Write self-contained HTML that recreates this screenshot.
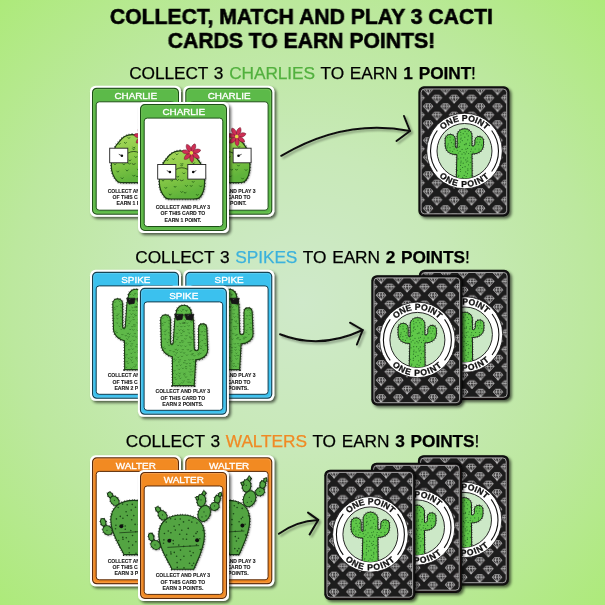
<!DOCTYPE html>
<html><head><meta charset="utf-8">
<style>
html,body{margin:0;padding:0;}
body{width:605px;height:605px;overflow:hidden;position:relative;
background:radial-gradient(circle 428px at 50% 50%, #cfe9ca 0%, #c8e9b8 35%, #bce89e 68%, #adea7a 100%);
font-family:"Liberation Sans",sans-serif;}
.t{will-change:transform;position:absolute;left:0;width:605px;text-align:center;white-space:nowrap;color:#000;}
.title{font-weight:bold;font-size:22.5px;line-height:24px;-webkit-text-stroke:0.6px #000;transform:scaleX(0.94);transform-origin:301.5px 0;}
.h{font-size:17.3px;line-height:20px;letter-spacing:-0.08px;word-spacing:1.1px;-webkit-text-stroke:0.25px;}
.h b{font-weight:bold;}
svg{position:absolute;left:0;top:0;}
</style></head>
<body>
<div class="t title" style="top:5px;left:-1px">COLLECT, MATCH AND PLAY 3 CACTI</div>
<div class="t title" style="top:29px;left:-1px">CARDS TO EARN POINTS!</div>
<div class="t h" style="top:63px;left:0px">COLLECT 3 <span style="color:#52b03e">CHARLIES</span> TO EARN <b>1 POINT</b>!</div>
<div class="t h" style="top:247px;left:0px">COLLECT 3 <span style="color:#3cb2dc">SPIKES</span> TO EARN <b>2 POINTS</b>!</div>
<div class="t h" style="top:431px;left:0px">COLLECT 3 <span style="color:#f08a24">WALTERS</span> TO EARN <b>3 POINTS</b>!</div>
<svg width="605" height="605" viewBox="0 0 605 605">

<defs>
  <filter id="sh" x="-20%" y="-20%" width="150%" height="150%">
    <feGaussianBlur in="SourceAlpha" stdDeviation="1.6"/>
    <feOffset dx="1.8" dy="1.9"/>
    <feComponentTransfer><feFuncA type="linear" slope="0.62"/></feComponentTransfer>
    <feMerge><feMergeNode/><feMergeNode in="SourceGraphic"/></feMerge>
  </filter>
  <filter id="ash" x="-10%" y="-30%" width="130%" height="180%">
    <feGaussianBlur in="SourceAlpha" stdDeviation="1.1"/>
    <feOffset dx="1.5" dy="1.8"/>
    <feComponentTransfer><feFuncA type="linear" slope="0.35"/></feComponentTransfer>
    <feMerge><feMergeNode/><feMergeNode in="SourceGraphic"/></feMerge>
  </filter>
  <filter id="cblur" x="-20%" y="-20%" width="140%" height="140%"><feGaussianBlur stdDeviation="0.9"/></filter>
  <linearGradient id="chg" x1="0" y1="0" x2="0.3" y2="1">
    <stop offset="0" stop-color="#a8d85c"/><stop offset="0.5" stop-color="#8ccb48"/><stop offset="1" stop-color="#5fb33a"/>
  </linearGradient>
  <pattern id="dia" patternUnits="userSpaceOnUse" width="17.35" height="17.0">
    <path d="M7.20,0.60 H12.40 L14.50,3.10 L9.80,8.30 L5.10,3.10 Z M5.10,3.10 H14.50 M8.80,0.60 L8.00,3.10 L9.80,8.30 L11.60,3.10 L10.80,0.60 M-1.48,9.10 H3.73 L5.83,11.60 L1.12,16.80 L-3.58,11.60 Z M-3.58,11.60 H5.83 M0.12,9.10 L-0.68,11.60 L1.12,16.80 L2.92,11.60 L2.12,9.10 M15.88,9.10 H21.08 L23.18,11.60 L18.48,16.80 L13.78,11.60 Z M13.78,11.60 H23.18 M17.48,9.10 L16.68,11.60 L18.48,16.80 L20.28,11.60 L19.48,9.10 M24.55,0.60 H29.75 L31.85,3.10 L27.15,8.30 L22.45,3.10 Z M22.45,3.10 H31.85 M26.15,0.60 L25.35,3.10 L27.15,8.30 L28.95,3.10 L28.15,0.60 M-10.15,0.60 H-4.95 L-2.85,3.10 L-7.55,8.30 L-12.25,3.10 Z M-12.25,3.10 H-2.85 M-8.55,0.60 L-9.35,3.10 L-7.55,8.30 L-5.75,3.10 L-6.55,0.60 M7.20,17.60 H12.40 L14.50,20.10 L9.80,25.30 L5.10,20.10 Z M5.10,20.10 H14.50 M8.80,17.60 L8.00,20.10 L9.80,25.30 L11.60,20.10 L10.80,17.60 M7.20,-16.40 H12.40 L14.50,-13.90 L9.80,-8.70 L5.10,-13.90 Z M5.10,-13.90 H14.50 M8.80,-16.40 L8.00,-13.90 L9.80,-8.70 L11.60,-13.90 L10.80,-16.40 " fill="none" stroke="#dadada" stroke-width="0.75" stroke-linejoin="round"/>
  </pattern>
  <clipPath id="discclip"><circle cx="46.1" cy="64.7" r="27.5"/></clipPath>
  <clipPath id="cacclip"><path d="M37.9,93 L38.5,68.3 C33,68.3 26.8,66.5 26.8,58 L26.8,53 C26.8,46.5 36.9,46.5 36.9,53 L36.9,59.5 C36.9,61.5 37.5,61.6 38.8,61.6 L38.8,49.8 C38.8,40 53.6,40 53.6,49.8 L53.6,59.7 C55,59.7 56.5,59.5 56.5,57.5 L56.5,54.4 C56.5,48.7 65.1,48.7 65.1,54.4 L65.1,58 C65.1,65.5 59,67.7 53.6,67.7 L53.8,93 Z"/></clipPath>
  <path id="arcTop" d="M16.1,64.7 A30,30 0 0 1 76.1,64.7" fill="none"/>
  <path id="arcBot" d="M10.2,64.7 A35.9,35.9 0 0 0 82,64.7" fill="none"/>
  
  <clipPath id="cbclip"><path d="M42,48.9 C50,48.9 55.5,52 59.1,56.6 C62,60 63.6,62.5 64.6,66 C66,70 66.6,75 66.6,80 C66.6,86 65,92 61.7,95.5 C60.5,96.8 58,97 55,97 L33,97 C30,97 28.3,96.8 27.2,95.5 C23,91 21.3,86 21.3,80 C21.3,74 22.3,68 24.5,63 C25.5,60 26.8,58.5 28.6,56.6 C31.5,52.5 36,48.9 42,48.9 Z"/></clipPath>
  <g id="charlie">
    <rect x="0" y="0" width="91" height="131" rx="5.5" fill="#fff"/>
    <rect x="2.6" y="2.6" width="85.8" height="125.8" rx="4.2" fill="#5cba48" stroke="#1f4f18" stroke-width="1.2"/>
    <rect x="3.6" y="3.6" width="83.8" height="123.8" rx="3.4" fill="none" stroke="#86d06a" stroke-width="0.8" opacity="0.7"/>
    <rect x="6.2" y="16.1" width="78.6" height="108.4" rx="3" fill="#fff" stroke="#1f4f18" stroke-width="1"/>
    <text x="45.8" y="13.3" font-family="Liberation Sans" font-size="9.9" fill="#fff" stroke="#fff" stroke-width="0.35" text-anchor="middle">CHARLIE</text>
    <path d="M42,48.9 C50,48.9 55.5,52 59.1,56.6 C62,60 63.6,62.5 64.6,66 C66,70 66.6,75 66.6,80 C66.6,86 65,92 61.7,95.5 C60.5,96.8 58,97 55,97 L33,97 C30,97 28.3,96.8 27.2,95.5 C23,91 21.3,86 21.3,80 C21.3,74 22.3,68 24.5,63 C25.5,60 26.8,58.5 28.6,56.6 C31.5,52.5 36,48.9 42,48.9 Z" fill="#000" opacity="0.45" transform="translate(0.9,0.9)" filter="url(#cblur)"/>
    <path d="M42,48.9 C50,48.9 55.5,52 59.1,56.6 C62,60 63.6,62.5 64.6,66 C66,70 66.6,75 66.6,80 C66.6,86 65,92 61.7,95.5 C60.5,96.8 58,97 55,97 L33,97 C30,97 28.3,96.8 27.2,95.5 C23,91 21.3,86 21.3,80 C21.3,74 22.3,68 24.5,63 C25.5,60 26.8,58.5 28.6,56.6 C31.5,52.5 36,48.9 42,48.9 Z" fill="none" stroke="#1a1a1a" stroke-width="2.6" stroke-dasharray="0.5 2.2"/>
    <path d="M42,48.9 C50,48.9 55.5,52 59.1,56.6 C62,60 63.6,62.5 64.6,66 C66,70 66.6,75 66.6,80 C66.6,86 65,92 61.7,95.5 C60.5,96.8 58,97 55,97 L33,97 C30,97 28.3,96.8 27.2,95.5 C23,91 21.3,86 21.3,80 C21.3,74 22.3,68 24.5,63 C25.5,60 26.8,58.5 28.6,56.6 C31.5,52.5 36,48.9 42,48.9 Z" fill="url(#chg)" stroke="#1b3a12" stroke-width="1.2"/>
    <g clip-path="url(#cbclip)"><path d="M22.5,50.1 L23.5,51.2 L24.5,50.1 M31.6,50.4 L32.6,51.5 L33.6,50.4 M37.9,51.8 L38.9,52.9 L39.9,51.8 M51.0,54.1 L52.0,55.2 L53.0,54.1 M58.3,50.8 L59.3,51.9 L60.3,50.8 M28.3,57.7 L29.3,58.8 L30.3,57.7 M34.4,56.7 L35.4,57.8 L36.4,56.7 M42.9,61.4 L43.9,62.5 L44.9,61.4 M54.6,60.7 L55.6,61.8 L56.6,60.7 M62.6,57.2 L63.6,58.3 L64.6,57.2 M22.9,66.2 L23.9,67.3 L24.9,66.2 M33.5,67.6 L34.5,68.7 L35.5,67.6 M42.6,63.1 L43.6,64.2 L44.6,63.1 M49.2,66.5 L50.2,67.6 L51.2,66.5 M56.8,63.7 L57.8,64.8 L58.8,63.7 M27.9,69.7 L28.9,70.8 L29.9,69.7 M38.8,74.2 L39.8,75.3 L40.8,74.2 M44.8,70.9 L45.8,72.0 L46.8,70.9 M55.0,72.5 L56.0,73.6 L57.0,72.5 M63.1,74.1 L64.1,75.2 L65.1,74.1 M24.0,78.1 L25.0,79.2 L26.0,78.1 M32.8,78.2 L33.8,79.3 L34.8,78.2 M38.5,77.5 L39.5,78.6 L40.5,77.5 M50.4,76.0 L51.4,77.1 L52.4,76.0 M54.2,79.4 L55.2,80.5 L56.2,79.4 M26.8,85.4 L27.8,86.5 L28.8,85.4 M36.1,84.3 L37.1,85.4 L38.1,84.3 M47.4,83.5 L48.4,84.6 L49.4,83.5 M52.2,83.5 L53.2,84.6 L54.2,83.5 M61.7,83.9 L62.7,85.0 L63.7,83.9 M23.2,93.2 L24.2,94.3 L25.2,93.2 M31.2,92.1 L32.2,93.2 L33.2,92.1 M42.7,89.5 L43.7,90.6 L44.7,89.5 M46.1,90.2 L47.1,91.3 L48.1,90.2 M58.3,92.4 L59.3,93.5 L60.3,92.4" fill="none" stroke="#2b6a1c" stroke-width="0.9" stroke-linecap="round"/></g>
    <g transform="translate(53.4,50.8) scale(1.12) rotate(22)">
      <g fill="#cf2e54" stroke="#6e1429" stroke-width="0.45"><path d="M0,-0.5 C-2.6,-3.5 -2.2,-7 0,-8.6 C2.2,-7 2.6,-3.5 0,-0.5 Z" transform="rotate(0)"/><path d="M0,-0.5 C-2.6,-3.5 -2.2,-7 0,-8.6 C2.2,-7 2.6,-3.5 0,-0.5 Z" transform="rotate(51.4)"/><path d="M0,-0.5 C-2.6,-3.5 -2.2,-7 0,-8.6 C2.2,-7 2.6,-3.5 0,-0.5 Z" transform="rotate(102.8)"/><path d="M0,-0.5 C-2.6,-3.5 -2.2,-7 0,-8.6 C2.2,-7 2.6,-3.5 0,-0.5 Z" transform="rotate(154.2)"/><path d="M0,-0.5 C-2.6,-3.5 -2.2,-7 0,-8.6 C2.2,-7 2.6,-3.5 0,-0.5 Z" transform="rotate(205.6)"/><path d="M0,-0.5 C-2.6,-3.5 -2.2,-7 0,-8.6 C2.2,-7 2.6,-3.5 0,-0.5 Z" transform="rotate(257)"/><path d="M0,-0.5 C-2.6,-3.5 -2.2,-7 0,-8.6 C2.2,-7 2.6,-3.5 0,-0.5 Z" transform="rotate(308.4)"/></g>
      <circle r="1.6" fill="#e6d64a"/>
    </g>
    <path d="M37.8,67.5 Q43.8,64 49.8,67.5" fill="none" stroke="#1b3a12" stroke-width="0.8"/>
    <rect x="19.7" y="62.5" width="18.1" height="14.6" fill="#fff" stroke="#222" stroke-width="0.9"/>
    <rect x="49.8" y="62.5" width="18" height="14.6" fill="#fff" stroke="#222" stroke-width="0.9"/>
    <circle cx="31.9" cy="70" r="1.3" fill="#111"/><path d="M31.9,70 L28.8,68.6" stroke="#111" stroke-width="0.7"/>
    <circle cx="55.2" cy="70" r="1.3" fill="#111"/><path d="M55.2,70 L58.3,68.6" stroke="#111" stroke-width="0.7"/>
    <path d="M41.8,77.9 Q43.7,79.6 45.6,77.9" fill="none" stroke="#1b3a12" stroke-width="0.7"/>
    
    <g font-family="Liberation Sans" font-weight="bold" font-size="5.3" fill="#1a1a1a" stroke="#1a1a1a" stroke-width="0.12" text-anchor="middle">
      <text x="44.9" y="106.90" textLength="54.5" lengthAdjust="spacingAndGlyphs">COLLECT AND PLAY 3</text>
      <text x="44.9" y="113.20" textLength="44.6" lengthAdjust="spacingAndGlyphs">OF THIS CARD TO</text>
      <text x="44.9" y="119.50" textLength="36.6" lengthAdjust="spacingAndGlyphs">EARN 1 POINT.</text>
    </g>
  </g>
  
  <clipPath id="sbclip"><path d="M34.7,99.8 L34.5,71 C30,70 23.5,66 23.5,59 L22.8,34 C22.8,27.5 32.5,27.5 32.5,34 L32.5,56 C32.5,59.5 35.4,59.5 35.4,56 L36.9,34 L38.3,27 A7.5,7.5 0 0 1 53.3,27 L55.5,34 L56.3,62 C56.3,66 60.7,66 60.7,62 L60.7,43 C60.7,36.5 68.9,36.5 68.9,43 L69.7,64 C69.7,70 64,74 57.8,74 L56.3,99.8 Z"/></clipPath>
  <g id="spike">
    <rect x="0" y="0" width="91" height="131" rx="5.5" fill="#fff"/>
    <rect x="2.6" y="2.6" width="85.8" height="125.8" rx="4.2" fill="#3bc1ee" stroke="#123c4e" stroke-width="1.2"/>
    <rect x="3.6" y="3.6" width="83.8" height="123.8" rx="3.4" fill="none" stroke="#7ad6f5" stroke-width="0.8" opacity="0.7"/>
    <rect x="6.2" y="16.1" width="78.6" height="108.4" rx="3" fill="#fff" stroke="#123c4e" stroke-width="1"/>
    <text x="45.8" y="13.3" font-family="Liberation Sans" font-size="9.9" fill="#fff" stroke="#fff" stroke-width="0.35" text-anchor="middle">SPIKE</text>
    <path d="M34.7,99.8 L34.5,71 C30,70 23.5,66 23.5,59 L22.8,34 C22.8,27.5 32.5,27.5 32.5,34 L32.5,56 C32.5,59.5 35.4,59.5 35.4,56 L36.9,34 L38.3,27 A7.5,7.5 0 0 1 53.3,27 L55.5,34 L56.3,62 C56.3,66 60.7,66 60.7,62 L60.7,43 C60.7,36.5 68.9,36.5 68.9,43 L69.7,64 C69.7,70 64,74 57.8,74 L56.3,99.8 Z" fill="#000" opacity="0.45" transform="translate(0.9,0.9)" filter="url(#cblur)"/>
    <path d="M34.7,99.8 L34.5,71 C30,70 23.5,66 23.5,59 L22.8,34 C22.8,27.5 32.5,27.5 32.5,34 L32.5,56 C32.5,59.5 35.4,59.5 35.4,56 L36.9,34 L38.3,27 A7.5,7.5 0 0 1 53.3,27 L55.5,34 L56.3,62 C56.3,66 60.7,66 60.7,62 L60.7,43 C60.7,36.5 68.9,36.5 68.9,43 L69.7,64 C69.7,70 64,74 57.8,74 L56.3,99.8 Z" fill="none" stroke="#1a1a1a" stroke-width="2.6" stroke-dasharray="0.5 2.2"/>
    <path d="M34.7,99.8 L34.5,71 C30,70 23.5,66 23.5,59 L22.8,34 C22.8,27.5 32.5,27.5 32.5,34 L32.5,56 C32.5,59.5 35.4,59.5 35.4,56 L36.9,34 L38.3,27 A7.5,7.5 0 0 1 53.3,27 L55.5,34 L56.3,62 C56.3,66 60.7,66 60.7,62 L60.7,43 C60.7,36.5 68.9,36.5 68.9,43 L69.7,64 C69.7,70 64,74 57.8,74 L56.3,99.8 Z" fill="#5fb94a" stroke="#1b3a12" stroke-width="1.1"/>
    <g clip-path="url(#sbclip)"><path d="M21.6,20.3 L22.4,21.1 L23.1,20.3 M26.3,20.9 L27.1,21.7 L27.8,20.9 M30.4,20.8 L31.1,21.6 L31.9,20.8 M32.5,19.4 L33.2,20.3 L34.0,19.4 M39.4,20.0 L40.1,20.8 L40.9,20.0 M43.4,18.4 L44.2,19.2 L44.9,18.4 M46.4,18.8 L47.1,19.6 L47.9,18.8 M50.8,19.8 L51.5,20.6 L52.3,19.8 M53.4,18.7 L54.2,19.5 L54.9,18.7 M58.4,20.8 L59.2,21.6 L59.9,20.8 M64.0,18.5 L64.8,19.4 L65.5,18.5 M68.3,18.5 L69.1,19.3 L69.8,18.5 M23.7,21.8 L24.4,22.6 L25.2,21.8 M26.1,24.0 L26.8,24.8 L27.6,24.0 M30.9,22.1 L31.6,22.9 L32.4,22.1 M37.4,24.0 L38.1,24.8 L38.9,24.0 M39.5,24.3 L40.3,25.1 L41.0,24.3 M44.5,23.4 L45.2,24.3 L46.0,23.4 M47.7,24.2 L48.4,25.0 L49.2,24.2 M53.3,24.3 L54.1,25.1 L54.8,24.3 M58.1,22.3 L58.9,23.1 L59.6,22.3 M60.7,21.9 L61.5,22.8 L62.2,21.9 M64.3,21.6 L65.1,22.5 L65.8,21.6 M20.7,26.6 L21.4,27.4 L22.2,26.6 M24.0,26.8 L24.7,27.6 L25.5,26.8 M29.2,25.7 L29.9,26.5 L30.7,25.7 M34.8,26.2 L35.5,27.0 L36.3,26.2 M37.5,26.2 L38.3,27.0 L39.0,26.2 M42.9,25.0 L43.6,25.8 L44.4,25.0 M47.8,24.9 L48.6,25.7 L49.3,24.9 M51.4,27.3 L52.1,28.1 L52.9,27.3 M53.4,27.1 L54.2,27.9 L54.9,27.1 M58.7,26.5 L59.4,27.3 L60.2,26.5 M61.8,24.9 L62.6,25.8 L63.3,24.9 M66.5,27.6 L67.3,28.4 L68.0,27.6 M22.5,30.4 L23.2,31.2 L24.0,30.4 M28.8,30.9 L29.6,31.8 L30.3,30.9 M31.3,29.2 L32.0,30.0 L32.8,29.2 M36.0,30.4 L36.8,31.3 L37.5,30.4 M39.0,30.4 L39.7,31.2 L40.5,30.4 M45.2,30.7 L46.0,31.5 L46.7,30.7 M47.2,30.9 L47.9,31.8 L48.7,30.9 M51.5,29.2 L52.3,30.0 L53.0,29.2 M57.3,30.9 L58.0,31.7 L58.8,30.9 M60.7,30.9 L61.4,31.7 L62.2,30.9 M65.5,29.1 L66.2,29.9 L67.0,29.1 M20.7,32.0 L21.5,32.9 L22.2,32.0 M24.2,32.0 L25.0,32.8 L25.7,32.0 M30.2,34.5 L31.0,35.3 L31.7,34.5 M32.9,31.7 L33.6,32.5 L34.4,31.7 M39.5,33.1 L40.2,33.9 L41.0,33.1 M42.0,32.2 L42.7,33.0 L43.5,32.2 M46.7,33.9 L47.5,34.8 L48.2,33.9 M50.5,32.8 L51.3,33.6 L52.0,32.8 M53.5,34.2 L54.3,35.0 L55.0,34.2 M57.7,33.0 L58.4,33.8 L59.2,33.0 M64.2,31.9 L65.0,32.7 L65.7,31.9 M68.1,34.3 L68.9,35.1 L69.6,34.3 M23.7,37.2 L24.5,38.0 L25.2,37.2 M26.4,36.2 L27.1,37.0 L27.9,36.2 M30.7,37.4 L31.5,38.2 L32.2,37.4 M35.3,36.2 L36.1,37.0 L36.8,36.2 M41.6,37.4 L42.4,38.2 L43.1,37.4 M45.7,36.2 L46.5,37.0 L47.2,36.2 M48.5,37.0 L49.3,37.8 L50.0,37.0 M52.7,35.7 L53.4,36.6 L54.2,35.7 M56.7,35.3 L57.4,36.1 L58.2,35.3 M60.8,37.8 L61.5,38.6 L62.3,37.8 M66.7,36.7 L67.5,37.5 L68.2,36.7 M21.2,39.2 L22.0,40.1 L22.7,39.2 M24.2,39.0 L25.0,39.9 L25.7,39.0 M30.5,40.8 L31.2,41.6 L32.0,40.8 M33.4,40.6 L34.2,41.4 L34.9,40.6 M38.9,40.3 L39.6,41.1 L40.4,40.3 M42.7,40.5 L43.5,41.3 L44.2,40.5 M46.0,40.3 L46.8,41.1 L47.5,40.3 M50.0,39.7 L50.8,40.5 L51.5,39.7 M55.6,40.3 L56.4,41.1 L57.1,40.3 M58.4,41.0 L59.2,41.8 L59.9,41.0 M63.7,39.9 L64.4,40.8 L65.2,39.9 M66.0,39.8 L66.8,40.7 L67.5,39.8 M22.6,43.6 L23.4,44.4 L24.1,43.6 M27.4,44.0 L28.2,44.8 L28.9,44.0 M32.2,43.9 L32.9,44.8 L33.7,43.9 M35.5,43.5 L36.3,44.3 L37.0,43.5 M40.8,44.0 L41.6,44.9 L42.3,44.0 M43.9,44.1 L44.7,44.9 L45.4,44.1 M49.6,43.6 L50.4,44.4 L51.1,43.6 M54.1,44.4 L54.9,45.2 L55.6,44.4 M57.0,43.2 L57.8,44.0 L58.5,43.2 M60.2,44.1 L60.9,44.9 L61.7,44.1 M66.6,43.0 L67.4,43.8 L68.1,43.0 M21.8,47.1 L22.6,47.9 L23.3,47.1 M26.1,45.5 L26.9,46.3 L27.6,45.5 M30.5,46.7 L31.2,47.5 L32.0,46.7 M34.3,46.2 L35.1,47.0 L35.8,46.2 M38.4,47.2 L39.2,48.1 L39.9,47.2 M42.7,47.1 L43.4,47.9 L44.2,47.1 M45.1,45.4 L45.8,46.3 L46.6,45.4 M50.5,46.9 L51.2,47.7 L52.0,46.9 M54.0,47.0 L54.8,47.8 L55.5,47.0 M59.4,45.1 L60.2,45.9 L60.9,45.1 M63.2,45.6 L63.9,46.5 L64.7,45.6 M66.1,45.4 L66.9,46.2 L67.6,45.4 M22.8,48.9 L23.6,49.7 L24.3,48.9 M26.6,48.4 L27.4,49.2 L28.1,48.4 M31.6,49.4 L32.4,50.3 L33.1,49.4 M36.3,50.1 L37.0,50.9 L37.8,50.1 M39.4,51.0 L40.1,51.8 L40.9,51.0 M42.9,49.5 L43.6,50.3 L44.4,49.5 M47.9,49.5 L48.6,50.4 L49.4,49.5 M51.6,50.8 L52.4,51.6 L53.1,50.8 M56.6,48.4 L57.3,49.3 L58.1,48.4 M61.5,48.6 L62.2,49.4 L63.0,48.6 M65.5,49.3 L66.2,50.1 L67.0,49.3 M21.5,54.5 L22.2,55.3 L23.0,54.5 M26.4,52.9 L27.1,53.7 L27.9,52.9 M30.6,53.6 L31.3,54.4 L32.1,53.6 M33.5,52.1 L34.2,52.9 L35.0,52.1 M38.3,53.3 L39.1,54.2 L39.8,53.3 M43.6,54.5 L44.3,55.4 L45.1,54.5 M46.8,52.7 L47.5,53.5 L48.3,52.7 M51.8,51.7 L52.6,52.5 L53.3,51.7 M53.7,53.3 L54.4,54.2 L55.2,53.3 M59.4,52.1 L60.1,52.9 L60.9,52.1 M63.6,54.3 L64.4,55.1 L65.1,54.3 M67.1,52.9 L67.8,53.8 L68.6,52.9 M22.5,55.9 L23.3,56.7 L24.0,55.9 M28.9,56.2 L29.7,57.0 L30.4,56.2 M33.1,57.7 L33.9,58.6 L34.6,57.7 M36.2,55.8 L37.0,56.6 L37.7,55.8 M41.6,56.5 L42.3,57.3 L43.1,56.5 M44.1,56.0 L44.9,56.8 L45.6,56.0 M50.0,56.5 L50.7,57.3 L51.5,56.5 M52.1,56.4 L52.9,57.3 L53.6,56.4 M55.8,56.9 L56.6,57.7 L57.3,56.9 M61.0,55.9 L61.7,56.7 L62.5,55.9 M66.2,57.5 L66.9,58.3 L67.7,57.5 M19.8,60.0 L20.6,60.8 L21.3,60.0 M24.8,61.1 L25.5,62.0 L26.3,61.1 M30.5,59.1 L31.2,59.9 L32.0,59.1 M33.2,58.9 L33.9,59.7 L34.7,58.9 M39.5,59.3 L40.2,60.1 L41.0,59.3 M42.6,59.8 L43.3,60.6 L44.1,59.8 M46.9,60.2 L47.6,61.0 L48.4,60.2 M51.4,58.7 L52.1,59.6 L52.9,58.7 M55.6,59.3 L56.4,60.1 L57.1,59.3 M59.1,59.4 L59.9,60.2 L60.6,59.4 M62.7,60.0 L63.4,60.8 L64.2,60.0 M67.3,59.5 L68.1,60.3 L68.8,59.5 M24.1,63.5 L24.8,64.3 L25.6,63.5 M26.2,62.5 L26.9,63.3 L27.7,62.5 M31.6,64.5 L32.4,65.3 L33.1,64.5 M37.1,63.4 L37.8,64.2 L38.6,63.4 M38.7,64.0 L39.5,64.9 L40.2,64.0 M44.1,63.5 L44.9,64.3 L45.6,63.5 M49.2,63.6 L49.9,64.4 L50.7,63.6 M52.7,64.4 L53.4,65.3 L54.2,64.4 M56.6,62.9 L57.4,63.7 L58.1,62.9 M62.2,62.3 L62.9,63.2 L63.7,62.3 M64.8,64.2 L65.5,65.0 L66.3,64.2 M20.0,67.6 L20.7,68.4 L21.5,67.6 M26.0,66.4 L26.8,67.2 L27.5,66.4 M29.0,67.4 L29.8,68.2 L30.5,67.4 M35.1,65.5 L35.8,66.4 L36.6,65.5 M38.0,66.7 L38.7,67.6 L39.5,66.7 M42.2,66.1 L43.0,66.9 L43.7,66.1 M45.4,66.8 L46.2,67.7 L46.9,66.8 M51.6,65.3 L52.3,66.1 L53.1,65.3 M54.1,67.5 L54.8,68.4 L55.6,67.5 M59.9,67.1 L60.7,67.9 L61.4,67.1 M61.9,67.2 L62.6,68.1 L63.4,67.2 M68.9,68.1 L69.6,68.9 L70.4,68.1 M23.9,68.6 L24.7,69.4 L25.4,68.6 M28.6,69.1 L29.3,69.9 L30.1,69.1 M32.2,71.3 L32.9,72.1 L33.7,71.3 M36.6,68.9 L37.3,69.7 L38.1,68.9 M39.5,71.2 L40.3,72.0 L41.0,71.2 M43.3,70.3 L44.1,71.1 L44.8,70.3 M48.3,69.0 L49.0,69.8 L49.8,69.0 M53.1,68.6 L53.9,69.4 L54.6,68.6 M55.8,69.6 L56.5,70.4 L57.3,69.6 M59.9,68.6 L60.6,69.5 L61.4,68.6 M65.6,70.7 L66.3,71.5 L67.1,70.7 M22.4,72.2 L23.1,73.1 L23.9,72.2 M25.2,72.8 L26.0,73.6 L26.7,72.8 M29.9,73.3 L30.7,74.1 L31.4,73.3 M35.1,72.9 L35.9,73.8 L36.6,72.9 M36.7,73.9 L37.5,74.7 L38.2,73.9 M41.2,73.7 L42.0,74.5 L42.7,73.7 M46.5,74.5 L47.2,75.3 L48.0,74.5 M50.8,73.7 L51.6,74.5 L52.3,73.7 M54.2,73.5 L54.9,74.3 L55.7,73.5 M58.3,74.0 L59.1,74.9 L59.8,74.0 M63.3,72.2 L64.0,73.1 L64.8,72.2 M66.7,72.9 L67.4,73.8 L68.2,72.9 M24.0,75.7 L24.8,76.6 L25.5,75.7 M28.2,77.1 L28.9,78.0 L29.7,77.1 M30.5,77.2 L31.3,78.0 L32.0,77.2 M34.7,75.6 L35.5,76.4 L36.2,75.6 M40.4,75.9 L41.2,76.7 L41.9,75.9 M45.5,76.6 L46.2,77.4 L47.0,76.6 M48.0,77.5 L48.8,78.4 L49.5,77.5 M51.4,77.3 L52.1,78.2 L52.9,77.3 M55.6,75.6 L56.4,76.5 L57.1,75.6 M62.5,77.2 L63.2,78.0 L64.0,77.2 M64.5,75.5 L65.3,76.4 L66.0,75.5 M22.6,80.5 L23.4,81.3 L24.1,80.5 M26.4,79.0 L27.1,79.8 L27.9,79.0 M30.0,79.6 L30.8,80.4 L31.5,79.6 M33.1,79.5 L33.8,80.4 L34.6,79.5 M38.4,79.6 L39.1,80.4 L39.9,79.6 M41.9,79.0 L42.7,79.8 L43.4,79.0 M47.4,80.5 L48.2,81.3 L48.9,80.5 M51.5,79.8 L52.3,80.7 L53.0,79.8 M55.9,80.1 L56.6,80.9 L57.4,80.1 M59.3,80.2 L60.1,81.1 L60.8,80.2 M64.0,79.7 L64.7,80.5 L65.5,79.7 M66.3,78.7 L67.0,79.5 L67.8,78.7 M22.5,82.0 L23.2,82.9 L24.0,82.0 M28.7,83.3 L29.4,84.2 L30.2,83.3 M32.5,81.9 L33.3,82.7 L34.0,81.9 M35.9,84.5 L36.6,85.4 L37.4,84.5 M40.5,83.2 L41.3,84.0 L42.0,83.2 M44.2,82.2 L45.0,83.0 L45.7,82.2 M47.5,82.4 L48.3,83.2 L49.0,82.4 M52.4,83.1 L53.1,83.9 L53.9,83.1 M58.1,82.4 L58.8,83.2 L59.6,82.4 M60.4,82.7 L61.2,83.6 L61.9,82.7 M64.4,82.8 L65.1,83.6 L65.9,82.8 M20.5,86.7 L21.2,87.5 L22.0,86.7 M24.1,88.0 L24.8,88.8 L25.6,88.0 M29.3,88.0 L30.0,88.9 L30.8,88.0 M34.4,87.3 L35.2,88.1 L35.9,87.3 M38.0,88.1 L38.7,88.9 L39.5,88.1 M41.1,87.2 L41.9,88.1 L42.6,87.2 M45.8,87.3 L46.6,88.1 L47.3,87.3 M51.3,85.8 L52.1,86.6 L52.8,85.8 M54.0,85.4 L54.7,86.2 L55.5,85.4 M58.3,85.5 L59.0,86.3 L59.8,85.5 M63.0,88.1 L63.7,89.0 L64.5,88.1 M67.1,86.2 L67.8,87.0 L68.6,86.2 M23.3,89.5 L24.0,90.3 L24.8,89.5 M28.2,90.8 L29.0,91.6 L29.7,90.8 M30.8,89.3 L31.5,90.2 L32.3,89.3 M36.5,91.4 L37.2,92.2 L38.0,91.4 M40.6,89.9 L41.3,90.7 L42.1,89.9 M45.7,88.7 L46.5,89.5 L47.2,88.7 M47.3,90.9 L48.0,91.8 L48.8,90.9 M52.5,88.8 L53.2,89.6 L54.0,88.8 M57.1,91.5 L57.8,92.4 L58.6,91.5 M61.2,89.7 L62.0,90.5 L62.7,89.7 M64.2,88.8 L64.9,89.7 L65.7,88.8 M22.4,93.4 L23.2,94.3 L23.9,93.4 M26.7,92.2 L27.5,93.0 L28.2,92.2 M28.9,92.1 L29.6,93.0 L30.4,92.1 M33.5,92.2 L34.3,93.0 L35.0,92.2 M37.3,93.2 L38.1,94.0 L38.8,93.2 M41.7,92.2 L42.4,93.0 L43.2,92.2 M45.1,94.9 L45.8,95.7 L46.6,94.9 M49.7,93.5 L50.5,94.3 L51.2,93.5 M54.6,93.6 L55.3,94.4 L56.1,93.6 M57.8,92.9 L58.6,93.7 L59.3,92.9 M62.1,93.6 L62.8,94.4 L63.6,93.6 M68.7,93.8 L69.4,94.6 L70.2,93.8 M24.4,96.0 L25.1,96.8 L25.9,96.0 M26.1,96.9 L26.9,97.8 L27.6,96.9 M31.7,97.0 L32.5,97.9 L33.2,97.0 M35.6,97.2 L36.3,98.0 L37.1,97.2 M40.8,98.0 L41.6,98.9 L42.3,98.0 M43.8,96.7 L44.5,97.5 L45.3,96.7 M49.5,96.0 L50.3,96.8 L51.0,96.0 M51.6,96.3 L52.4,97.1 L53.1,96.3 M55.7,97.6 L56.5,98.5 L57.2,97.6 M62.1,96.3 L62.8,97.1 L63.6,96.3 M64.3,95.6 L65.0,96.4 L65.8,95.6" fill="none" stroke="#2a6a1f" stroke-width="0.55" stroke-linecap="round"/></g>
    <path d="M36.6,28.4 L45,28.4 L44.2,33.6 L39,34.4 Z M47,28.4 L56,28.4 L54.5,34.4 L48.5,33.6 Z M44,29.3 L48,29.3" fill="#151515" stroke="#151515" stroke-width="0.7"/>
    <path d="M39,30 L40.5,29.3 M49.5,30 L51,29.3" stroke="#888" stroke-width="0.4"/>
    <path d="M44.3,37.3 L47.5,37.3" stroke="#1b3a12" stroke-width="0.7"/>
    
    <g font-family="Liberation Sans" font-weight="bold" font-size="5.3" fill="#1a1a1a" stroke="#1a1a1a" stroke-width="0.12" text-anchor="middle">
      <text x="44.9" y="107.50" textLength="54.5" lengthAdjust="spacingAndGlyphs">COLLECT AND PLAY 3</text>
      <text x="44.9" y="113.80" textLength="44.6" lengthAdjust="spacingAndGlyphs">OF THIS CARD TO</text>
      <text x="44.9" y="120.10" textLength="41" lengthAdjust="spacingAndGlyphs">EARN 2 POINTS.</text>
    </g>
  </g>
  
  <clipPath id="wbclip"><path d="M44,45.1 C57,45.1 66.4,51 66.4,65 C66.4,79 59,91 55.8,99.3 L34,99.3 C30.5,91 20.8,79 20.8,65 C20.8,51 31,45.1 44,45.1 Z"/></clipPath>
  <g id="walter">
    <rect x="0" y="0" width="91" height="131" rx="5.5" fill="#fff"/>
    <rect x="2.6" y="2.6" width="85.8" height="125.8" rx="4.2" fill="#f28a24" stroke="#5a2a08" stroke-width="1.2"/>
    <rect x="3.6" y="3.6" width="83.8" height="123.8" rx="3.4" fill="none" stroke="#f7b068" stroke-width="0.8" opacity="0.7"/>
    <rect x="6.2" y="16.1" width="78.6" height="108.4" rx="3" fill="#fff" stroke="#5a2a08" stroke-width="1"/>
    <text x="45.8" y="13.3" font-family="Liberation Sans" font-size="9.9" fill="#fff" stroke="#fff" stroke-width="0.35" text-anchor="middle">WALTER</text>
    <g fill="#000" opacity="0.45" transform="translate(0.9,0.9)" filter="url(#cblur)"><ellipse cx="20.2" cy="39.6" rx="2.2" ry="3" transform="rotate(-40 20.2 39.6)"/><ellipse cx="24.6" cy="45.5" rx="3.8" ry="5.2" transform="rotate(-40 24.6 45.5)"/><ellipse cx="13.2" cy="67" rx="2.5" ry="3.8" transform="rotate(-15 13.2 67)"/><ellipse cx="17.6" cy="75" rx="4.2" ry="5" transform="rotate(-55 17.6 75)"/><ellipse cx="66.2" cy="43.5" rx="6" ry="8.2" transform="rotate(20 66.2 43.5)"/><ellipse cx="63.3" cy="30.5" rx="4.3" ry="6.2" transform="rotate(5 63.3 30.5)"/><ellipse cx="76.7" cy="36.4" rx="4.5" ry="4" transform="rotate(-30 76.7 36.4)"/><ellipse cx="79.4" cy="29.2" rx="2.8" ry="3.8" transform="rotate(10 79.4 29.2)"/><ellipse cx="66" cy="23.4" rx="1.5" ry="2.4" transform="rotate(0 66 23.4)"/><ellipse cx="82" cy="24.8" rx="1.5" ry="2.2" transform="rotate(20 82 24.8)"/><ellipse cx="59.3" cy="28.4" rx="1.3" ry="1.8" transform="rotate(-30 59.3 28.4)"/><path d="M44,45.1 C57,45.1 66.4,51 66.4,65 C66.4,79 59,91 55.8,99.3 L34,99.3 C30.5,91 20.8,79 20.8,65 C20.8,51 31,45.1 44,45.1 Z"/></g>
    <g fill="none" stroke="#1a1a1a" stroke-width="2.4" stroke-dasharray="0.5 2.2"><ellipse cx="20.2" cy="39.6" rx="2.2" ry="3" transform="rotate(-40 20.2 39.6)"/><ellipse cx="24.6" cy="45.5" rx="3.8" ry="5.2" transform="rotate(-40 24.6 45.5)"/><ellipse cx="13.2" cy="67" rx="2.5" ry="3.8" transform="rotate(-15 13.2 67)"/><ellipse cx="17.6" cy="75" rx="4.2" ry="5" transform="rotate(-55 17.6 75)"/><ellipse cx="66.2" cy="43.5" rx="6" ry="8.2" transform="rotate(20 66.2 43.5)"/><ellipse cx="63.3" cy="30.5" rx="4.3" ry="6.2" transform="rotate(5 63.3 30.5)"/><ellipse cx="76.7" cy="36.4" rx="4.5" ry="4" transform="rotate(-30 76.7 36.4)"/><ellipse cx="79.4" cy="29.2" rx="2.8" ry="3.8" transform="rotate(10 79.4 29.2)"/><ellipse cx="66" cy="23.4" rx="1.5" ry="2.4" transform="rotate(0 66 23.4)"/><ellipse cx="82" cy="24.8" rx="1.5" ry="2.2" transform="rotate(20 82 24.8)"/><ellipse cx="59.3" cy="28.4" rx="1.3" ry="1.8" transform="rotate(-30 59.3 28.4)"/></g>
    <g fill="#52a443" stroke="#173812" stroke-width="1"><ellipse cx="20.2" cy="39.6" rx="2.2" ry="3" transform="rotate(-40 20.2 39.6)"/><ellipse cx="24.6" cy="45.5" rx="3.8" ry="5.2" transform="rotate(-40 24.6 45.5)"/><ellipse cx="13.2" cy="67" rx="2.5" ry="3.8" transform="rotate(-15 13.2 67)"/><ellipse cx="17.6" cy="75" rx="4.2" ry="5" transform="rotate(-55 17.6 75)"/><ellipse cx="66.2" cy="43.5" rx="6" ry="8.2" transform="rotate(20 66.2 43.5)"/><ellipse cx="63.3" cy="30.5" rx="4.3" ry="6.2" transform="rotate(5 63.3 30.5)"/><ellipse cx="76.7" cy="36.4" rx="4.5" ry="4" transform="rotate(-30 76.7 36.4)"/><ellipse cx="79.4" cy="29.2" rx="2.8" ry="3.8" transform="rotate(10 79.4 29.2)"/><ellipse cx="66" cy="23.4" rx="1.5" ry="2.4" transform="rotate(0 66 23.4)"/><ellipse cx="82" cy="24.8" rx="1.5" ry="2.2" transform="rotate(20 82 24.8)"/><ellipse cx="59.3" cy="28.4" rx="1.3" ry="1.8" transform="rotate(-30 59.3 28.4)"/></g>
    <g fill="#1d4a17">
      <circle cx="66" cy="42" r="0.6"/><circle cx="68" cy="46" r="0.6"/><circle cx="64" cy="47" r="0.6"/><circle cx="63" cy="30" r="0.6"/><circle cx="76.5" cy="36" r="0.6"/><circle cx="24.5" cy="45" r="0.6"/><circle cx="17" cy="75" r="0.6"/>
    </g>
    <path d="M44,45.1 C57,45.1 66.4,51 66.4,65 C66.4,79 59,91 55.8,99.3 L34,99.3 C30.5,91 20.8,79 20.8,65 C20.8,51 31,45.1 44,45.1 Z" fill="none" stroke="#1a1a1a" stroke-width="2.6" stroke-dasharray="0.5 2.2"/>
    <path d="M44,45.1 C57,45.1 66.4,51 66.4,65 C66.4,79 59,91 55.8,99.3 L34,99.3 C30.5,91 20.8,79 20.8,65 C20.8,51 31,45.1 44,45.1 Z" fill="#52a443" stroke="#173812" stroke-width="1.1"/>
    <g clip-path="url(#wbclip)"><g fill="#1d4a17"><circle cx="23.8" cy="49.3" r="0.8"/><circle cx="32.6" cy="48.8" r="0.8"/><circle cx="37.2" cy="49.4" r="0.8"/><circle cx="42.3" cy="49.1" r="0.8"/><circle cx="51.0" cy="50.4" r="0.8"/><circle cx="55.1" cy="48.1" r="0.8"/><circle cx="61.7" cy="50.4" r="0.8"/><circle cx="28.2" cy="52.2" r="0.8"/><circle cx="36.1" cy="56.4" r="0.8"/><circle cx="41.2" cy="54.8" r="0.8"/><circle cx="45.5" cy="52.0" r="0.8"/><circle cx="53.8" cy="52.2" r="0.8"/><circle cx="58.9" cy="53.1" r="0.8"/><circle cx="21.8" cy="59.4" r="0.8"/><circle cx="30.3" cy="61.1" r="0.8"/><circle cx="37.3" cy="60.2" r="0.8"/><circle cx="43.8" cy="60.3" r="0.8"/><circle cx="50.2" cy="58.5" r="0.8"/><circle cx="59.3" cy="61.9" r="0.8"/><circle cx="65.2" cy="60.5" r="0.8"/><circle cx="26.4" cy="63.6" r="0.8"/><circle cx="32.9" cy="62.9" r="0.8"/><circle cx="41.7" cy="64.4" r="0.8"/><circle cx="48.7" cy="64.3" r="0.8"/><circle cx="55.8" cy="66.4" r="0.8"/><circle cx="58.0" cy="63.5" r="0.8"/><circle cx="25.9" cy="70.0" r="0.8"/><circle cx="32.8" cy="69.6" r="0.8"/><circle cx="35.2" cy="70.7" r="0.8"/><circle cx="45.1" cy="69.1" r="0.8"/><circle cx="48.5" cy="69.3" r="0.8"/><circle cx="59.1" cy="71.3" r="0.8"/><circle cx="61.8" cy="68.9" r="0.8"/><circle cx="25.5" cy="73.4" r="0.8"/><circle cx="35.3" cy="73.9" r="0.8"/><circle cx="40.8" cy="75.2" r="0.8"/><circle cx="45.7" cy="76.5" r="0.8"/><circle cx="52.0" cy="76.1" r="0.8"/><circle cx="58.5" cy="75.0" r="0.8"/><circle cx="22.7" cy="79.6" r="0.8"/><circle cx="32.8" cy="82.1" r="0.8"/><circle cx="36.3" cy="82.5" r="0.8"/><circle cx="42.5" cy="80.2" r="0.8"/><circle cx="52.0" cy="81.3" r="0.8"/><circle cx="55.2" cy="82.9" r="0.8"/><circle cx="62.3" cy="79.6" r="0.8"/><circle cx="28.6" cy="85.2" r="0.8"/><circle cx="33.0" cy="84.0" r="0.8"/><circle cx="38.6" cy="86.3" r="0.8"/><circle cx="45.9" cy="86.4" r="0.8"/><circle cx="53.1" cy="85.7" r="0.8"/><circle cx="62.4" cy="85.9" r="0.8"/><circle cx="24.3" cy="92.9" r="0.8"/><circle cx="29.1" cy="89.6" r="0.8"/><circle cx="39.1" cy="92.7" r="0.8"/><circle cx="42.6" cy="89.8" r="0.8"/><circle cx="51.5" cy="93.3" r="0.8"/><circle cx="55.6" cy="93.3" r="0.8"/><circle cx="65.4" cy="91.7" r="0.8"/><circle cx="26.9" cy="94.7" r="0.8"/><circle cx="31.8" cy="98.7" r="0.8"/><circle cx="39.3" cy="97.5" r="0.8"/><circle cx="46.0" cy="98.0" r="0.8"/><circle cx="54.1" cy="95.6" r="0.8"/><circle cx="58.8" cy="97.5" r="0.8"/></g></g>
    <circle cx="31.3" cy="70.9" r="2" fill="#111"/>
    <circle cx="59.1" cy="70.3" r="2" fill="#111"/>
    <path d="M29.4,77.5 L61.1,75.7" stroke="#1d3d17" stroke-width="0.8"/>
    
    <g font-family="Liberation Sans" font-weight="bold" font-size="5.3" fill="#1a1a1a" stroke="#1a1a1a" stroke-width="0.12" text-anchor="middle">
      <text x="44.9" y="107.50" textLength="54.5" lengthAdjust="spacingAndGlyphs">COLLECT AND PLAY 3</text>
      <text x="44.9" y="113.80" textLength="44.6" lengthAdjust="spacingAndGlyphs">OF THIS CARD TO</text>
      <text x="44.9" y="120.10" textLength="41" lengthAdjust="spacingAndGlyphs">EARN 3 POINTS.</text>
    </g>
  </g>
  
  <g id="bcard">
    <rect x="0.6" y="0.6" width="89.8" height="129" rx="5" fill="#161415" stroke="#0a0a0a" stroke-width="1.2"/>
    <rect x="2.7" y="2.7" width="85.6" height="124.8" rx="3.5" fill="#1d1b1c" stroke="#d0d0d0" stroke-width="0.75"/>
    <rect x="3.1" y="3.1" width="84.8" height="124" rx="3" fill="url(#dia)"/>
    <circle cx="46.1" cy="64.7" r="37.8" fill="#fff" stroke="#111" stroke-width="0.8"/>
    <path d="M18.95,44.24 A34,34 0 0 0 18.95,85.16" fill="none" stroke="#111" stroke-width="1.1"/>
    <path d="M73.25,44.24 A34,34 0 0 1 73.25,85.16" fill="none" stroke="#111" stroke-width="1.1"/>
    <circle cx="46.1" cy="64.7" r="27.5" fill="#cce8c7" stroke="#111" stroke-width="0.9"/>
    <g clip-path="url(#discclip)">
      <path d="M37.9,93 L38.5,68.3 C33,68.3 26.8,66.5 26.8,58 L26.8,53 C26.8,46.5 36.9,46.5 36.9,53 L36.9,59.5 C36.9,61.5 37.5,61.6 38.8,61.6 L38.8,49.8 C38.8,40 53.6,40 53.6,49.8 L53.6,59.7 C55,59.7 56.5,59.5 56.5,57.5 L56.5,54.4 C56.5,48.7 65.1,48.7 65.1,54.4 L65.1,58 C65.1,65.5 59,67.7 53.6,67.7 L53.8,93 Z" fill="none" stroke="#1a1a1a" stroke-width="2.2" stroke-dasharray="0.4 2.0"/>
      <path d="M37.9,93 L38.5,68.3 C33,68.3 26.8,66.5 26.8,58 L26.8,53 C26.8,46.5 36.9,46.5 36.9,53 L36.9,59.5 C36.9,61.5 37.5,61.6 38.8,61.6 L38.8,49.8 C38.8,40 53.6,40 53.6,49.8 L53.6,59.7 C55,59.7 56.5,59.5 56.5,57.5 L56.5,54.4 C56.5,48.7 65.1,48.7 65.1,54.4 L65.1,58 C65.1,65.5 59,67.7 53.6,67.7 L53.8,93 Z" fill="#60c84a" stroke="#111" stroke-width="0.9"/>
      <g clip-path="url(#cacclip)"><g fill="#2a7526"><circle cx="26.2" cy="42.5" r="0.6"/><circle cx="30.9" cy="41.9" r="0.6"/><circle cx="33.5" cy="42.7" r="0.6"/><circle cx="38.6" cy="42.0" r="0.6"/><circle cx="41.4" cy="41.3" r="0.6"/><circle cx="43.7" cy="41.7" r="0.6"/><circle cx="48.8" cy="40.9" r="0.6"/><circle cx="52.9" cy="41.3" r="0.6"/><circle cx="55.1" cy="40.8" r="0.6"/><circle cx="60.7" cy="42.6" r="0.6"/><circle cx="63.9" cy="42.3" r="0.6"/><circle cx="27.6" cy="44.4" r="0.6"/><circle cx="32.4" cy="43.9" r="0.6"/><circle cx="37.1" cy="44.5" r="0.6"/><circle cx="38.7" cy="45.7" r="0.6"/><circle cx="42.3" cy="46.0" r="0.6"/><circle cx="46.7" cy="45.0" r="0.6"/><circle cx="50.0" cy="44.8" r="0.6"/><circle cx="53.2" cy="43.7" r="0.6"/><circle cx="58.5" cy="44.2" r="0.6"/><circle cx="61.9" cy="44.1" r="0.6"/><circle cx="66.0" cy="45.9" r="0.6"/><circle cx="27.6" cy="48.4" r="0.6"/><circle cx="30.8" cy="48.3" r="0.6"/><circle cx="33.2" cy="47.7" r="0.6"/><circle cx="38.6" cy="47.0" r="0.6"/><circle cx="42.5" cy="48.7" r="0.6"/><circle cx="44.8" cy="47.4" r="0.6"/><circle cx="48.5" cy="47.5" r="0.6"/><circle cx="53.4" cy="47.5" r="0.6"/><circle cx="54.6" cy="46.7" r="0.6"/><circle cx="59.9" cy="49.0" r="0.6"/><circle cx="63.0" cy="47.7" r="0.6"/><circle cx="28.9" cy="51.3" r="0.6"/><circle cx="31.7" cy="50.9" r="0.6"/><circle cx="36.1" cy="50.9" r="0.6"/><circle cx="38.8" cy="49.8" r="0.6"/><circle cx="42.8" cy="51.7" r="0.6"/><circle cx="46.4" cy="50.9" r="0.6"/><circle cx="49.9" cy="49.6" r="0.6"/><circle cx="52.9" cy="51.4" r="0.6"/><circle cx="58.3" cy="50.3" r="0.6"/><circle cx="61.7" cy="51.1" r="0.6"/><circle cx="65.8" cy="51.8" r="0.6"/><circle cx="26.8" cy="54.8" r="0.6"/><circle cx="31.8" cy="53.7" r="0.6"/><circle cx="35.2" cy="53.5" r="0.6"/><circle cx="37.5" cy="52.9" r="0.6"/><circle cx="42.3" cy="52.7" r="0.6"/><circle cx="43.9" cy="54.3" r="0.6"/><circle cx="49.3" cy="53.5" r="0.6"/><circle cx="53.0" cy="52.4" r="0.6"/><circle cx="55.2" cy="53.0" r="0.6"/><circle cx="59.2" cy="52.7" r="0.6"/><circle cx="61.9" cy="53.1" r="0.6"/><circle cx="29.8" cy="57.6" r="0.6"/><circle cx="33.0" cy="56.3" r="0.6"/><circle cx="35.4" cy="57.6" r="0.6"/><circle cx="39.7" cy="57.0" r="0.6"/><circle cx="42.0" cy="55.7" r="0.6"/><circle cx="47.7" cy="57.1" r="0.6"/><circle cx="51.4" cy="56.7" r="0.6"/><circle cx="53.8" cy="56.6" r="0.6"/><circle cx="58.5" cy="55.9" r="0.6"/><circle cx="61.3" cy="55.8" r="0.6"/><circle cx="65.5" cy="55.2" r="0.6"/><circle cx="27.5" cy="60.4" r="0.6"/><circle cx="29.4" cy="59.5" r="0.6"/><circle cx="34.6" cy="60.2" r="0.6"/><circle cx="38.0" cy="58.7" r="0.6"/><circle cx="41.2" cy="60.4" r="0.6"/><circle cx="46.0" cy="58.4" r="0.6"/><circle cx="47.6" cy="58.3" r="0.6"/><circle cx="51.0" cy="59.1" r="0.6"/><circle cx="54.9" cy="60.2" r="0.6"/><circle cx="59.8" cy="58.3" r="0.6"/><circle cx="63.1" cy="58.8" r="0.6"/><circle cx="28.8" cy="61.5" r="0.6"/><circle cx="31.6" cy="61.4" r="0.6"/><circle cx="35.7" cy="62.7" r="0.6"/><circle cx="39.7" cy="61.0" r="0.6"/><circle cx="43.7" cy="63.1" r="0.6"/><circle cx="47.5" cy="62.9" r="0.6"/><circle cx="49.2" cy="62.1" r="0.6"/><circle cx="52.9" cy="62.8" r="0.6"/><circle cx="56.8" cy="62.7" r="0.6"/><circle cx="60.6" cy="62.7" r="0.6"/><circle cx="64.3" cy="61.0" r="0.6"/><circle cx="26.7" cy="64.6" r="0.6"/><circle cx="31.6" cy="64.5" r="0.6"/><circle cx="34.2" cy="65.2" r="0.6"/><circle cx="38.9" cy="64.0" r="0.6"/><circle cx="41.7" cy="65.1" r="0.6"/><circle cx="45.6" cy="66.2" r="0.6"/><circle cx="48.1" cy="65.5" r="0.6"/><circle cx="52.3" cy="65.2" r="0.6"/><circle cx="54.7" cy="65.8" r="0.6"/><circle cx="60.6" cy="64.7" r="0.6"/><circle cx="62.5" cy="66.3" r="0.6"/><circle cx="27.8" cy="66.9" r="0.6"/><circle cx="31.3" cy="68.7" r="0.6"/><circle cx="36.7" cy="67.8" r="0.6"/><circle cx="39.9" cy="66.7" r="0.6"/><circle cx="43.6" cy="67.8" r="0.6"/><circle cx="46.8" cy="67.6" r="0.6"/><circle cx="50.2" cy="67.2" r="0.6"/><circle cx="52.9" cy="67.8" r="0.6"/><circle cx="57.0" cy="68.4" r="0.6"/><circle cx="62.0" cy="68.5" r="0.6"/><circle cx="64.7" cy="67.3" r="0.6"/><circle cx="26.7" cy="70.8" r="0.6"/><circle cx="30.9" cy="72.0" r="0.6"/><circle cx="33.2" cy="70.7" r="0.6"/><circle cx="37.8" cy="71.3" r="0.6"/><circle cx="42.4" cy="71.5" r="0.6"/><circle cx="45.3" cy="71.5" r="0.6"/><circle cx="49.0" cy="71.7" r="0.6"/><circle cx="52.7" cy="71.3" r="0.6"/><circle cx="55.2" cy="71.9" r="0.6"/><circle cx="59.1" cy="71.1" r="0.6"/><circle cx="63.8" cy="72.0" r="0.6"/><circle cx="30.0" cy="72.4" r="0.6"/><circle cx="31.9" cy="73.2" r="0.6"/><circle cx="35.7" cy="72.8" r="0.6"/><circle cx="39.7" cy="72.6" r="0.6"/><circle cx="42.7" cy="74.8" r="0.6"/><circle cx="47.4" cy="73.6" r="0.6"/><circle cx="49.4" cy="74.8" r="0.6"/><circle cx="54.5" cy="72.9" r="0.6"/><circle cx="57.2" cy="74.0" r="0.6"/><circle cx="61.7" cy="73.1" r="0.6"/><circle cx="65.9" cy="73.2" r="0.6"/><circle cx="26.4" cy="77.4" r="0.6"/><circle cx="29.7" cy="77.0" r="0.6"/><circle cx="33.4" cy="76.8" r="0.6"/><circle cx="37.2" cy="76.3" r="0.6"/><circle cx="42.5" cy="76.5" r="0.6"/><circle cx="44.8" cy="76.9" r="0.6"/><circle cx="48.0" cy="75.7" r="0.6"/><circle cx="51.9" cy="76.0" r="0.6"/><circle cx="55.0" cy="77.7" r="0.6"/><circle cx="58.2" cy="77.3" r="0.6"/><circle cx="64.1" cy="77.1" r="0.6"/><circle cx="27.6" cy="79.4" r="0.6"/><circle cx="31.2" cy="79.7" r="0.6"/><circle cx="36.5" cy="78.8" r="0.6"/><circle cx="38.4" cy="79.6" r="0.6"/><circle cx="42.2" cy="79.0" r="0.6"/><circle cx="46.7" cy="80.4" r="0.6"/><circle cx="50.1" cy="78.5" r="0.6"/><circle cx="54.7" cy="80.3" r="0.6"/><circle cx="57.7" cy="78.3" r="0.6"/><circle cx="60.4" cy="79.2" r="0.6"/><circle cx="64.9" cy="78.7" r="0.6"/><circle cx="27.8" cy="83.2" r="0.6"/><circle cx="31.7" cy="83.3" r="0.6"/><circle cx="33.0" cy="82.5" r="0.6"/><circle cx="36.7" cy="83.3" r="0.6"/><circle cx="42.0" cy="83.0" r="0.6"/><circle cx="44.2" cy="81.2" r="0.6"/><circle cx="49.4" cy="82.6" r="0.6"/><circle cx="52.5" cy="82.2" r="0.6"/><circle cx="56.6" cy="81.9" r="0.6"/><circle cx="58.8" cy="81.9" r="0.6"/><circle cx="62.5" cy="82.6" r="0.6"/><circle cx="29.8" cy="84.1" r="0.6"/><circle cx="31.3" cy="85.2" r="0.6"/><circle cx="36.4" cy="84.4" r="0.6"/><circle cx="39.0" cy="84.1" r="0.6"/><circle cx="42.0" cy="85.2" r="0.6"/><circle cx="47.3" cy="85.6" r="0.6"/><circle cx="49.5" cy="84.2" r="0.6"/><circle cx="55.1" cy="85.3" r="0.6"/><circle cx="57.4" cy="85.7" r="0.6"/><circle cx="61.8" cy="85.3" r="0.6"/><circle cx="63.7" cy="86.0" r="0.6"/><circle cx="26.3" cy="86.9" r="0.6"/><circle cx="30.2" cy="88.2" r="0.6"/><circle cx="34.5" cy="87.3" r="0.6"/><circle cx="38.3" cy="88.1" r="0.6"/><circle cx="40.5" cy="89.0" r="0.6"/><circle cx="45.8" cy="89.1" r="0.6"/><circle cx="49.1" cy="87.4" r="0.6"/><circle cx="52.9" cy="89.1" r="0.6"/><circle cx="55.9" cy="89.1" r="0.6"/><circle cx="60.6" cy="87.8" r="0.6"/><circle cx="64.1" cy="89.2" r="0.6"/><circle cx="29.5" cy="89.7" r="0.6"/><circle cx="32.0" cy="91.2" r="0.6"/><circle cx="36.3" cy="91.6" r="0.6"/><circle cx="40.0" cy="90.1" r="0.6"/><circle cx="44.3" cy="91.1" r="0.6"/><circle cx="47.8" cy="90.2" r="0.6"/><circle cx="51.7" cy="91.1" r="0.6"/><circle cx="54.7" cy="91.6" r="0.6"/><circle cx="58.6" cy="90.6" r="0.6"/><circle cx="60.1" cy="90.7" r="0.6"/><circle cx="64.0" cy="91.1" r="0.6"/></g></g>
    </g>
    <g font-family="Liberation Sans" font-weight="bold" font-size="8.6" fill="#111" stroke="#111" stroke-width="0.3">
    <text letter-spacing="0.1"><textPath href="#arcTop" startOffset="50%" text-anchor="middle">ONE POINT</textPath></text>
    <text letter-spacing="1.0"><textPath href="#arcBot" startOffset="50%" text-anchor="middle">ONE POINT</textPath></text>
    </g>
  </g>
</defs>


<g filter="url(#sh)"><use href="#charlie" x="90.0" y="85.7"/></g>
<g filter="url(#sh)"><use href="#charlie" x="183.3" y="85.7"/></g>
<g filter="url(#sh)"><use href="#charlie" x="138.0" y="102"/></g>

<g filter="url(#sh)"><use href="#spike" x="90.0" y="269.8"/></g>
<g filter="url(#sh)"><use href="#spike" x="183.3" y="269.8"/></g>
<g filter="url(#sh)"><use href="#spike" x="137.9" y="285.8"/></g>

<g filter="url(#sh)"><use href="#walter" x="90.0" y="455.3"/></g>
<g filter="url(#sh)"><use href="#walter" x="183.3" y="455.3"/></g>
<g filter="url(#sh)"><use href="#walter" x="138.0" y="469.9"/></g>
<g filter="url(#sh)"><use href="#bcard" x="418.4" y="86.3"/></g>
<g filter="url(#sh)"><use href="#bcard" x="418.8" y="269.8"/></g>
<g filter="url(#sh)"><use href="#bcard" x="371.3" y="275.2"/></g>
<g filter="url(#sh)"><use href="#bcard" x="417.9" y="455.2"/></g>
<g filter="url(#sh)"><use href="#bcard" x="370.9" y="462.7"/></g>
<g filter="url(#sh)"><use href="#bcard" x="324.3" y="469.7"/></g>
<g fill="none" stroke="#111" stroke-width="2" stroke-linecap="round" stroke-linejoin="round" filter="url(#ash)">
  <path d="M281.2,155.8 Q345,118 410,131"/>
  <path d="M404,116 L410,131 L396.5,141"/>
  <path d="M280,334.2 Q320,350 362.7,330"/>
  <path d="M350,322.7 L362.7,330 L356.9,344.5"/>
  <path d="M278.9,533.8 Q296,521 318.2,519.9"/>
  <path d="M308,512.6 L318.2,519.9 L309.6,534.4"/>
</g>
</svg>
</body></html>
